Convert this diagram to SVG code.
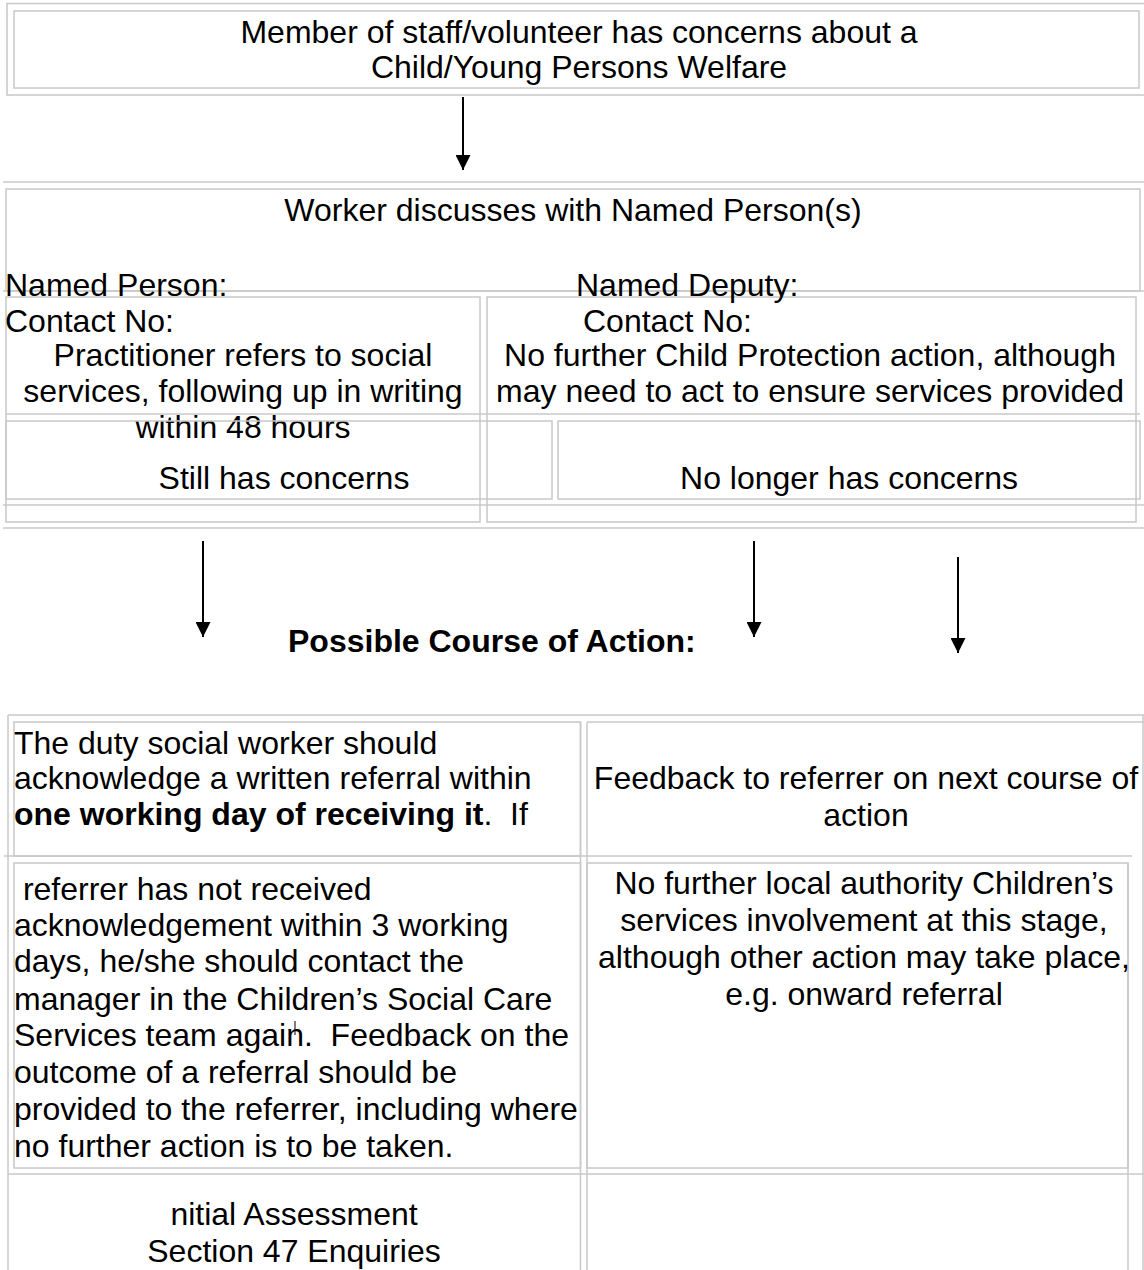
<svg xmlns="http://www.w3.org/2000/svg" width="1144" height="1270" viewBox="0 0 1144 1270">
<style>
  .g { fill: none; stroke: #c8c8c8; stroke-width: 1.5; }
  .t { font-family: "Liberation Sans", Arial, sans-serif; font-size: 32px; fill: #000; }
  .c { text-anchor: middle; }
  .b { font-weight: bold; }
  .arr { stroke: #000; stroke-width: 2; fill: none; marker-end: url(#ah); }
</style>
<defs>
  <marker id="ah" markerUnits="userSpaceOnUse" markerWidth="16" markerHeight="15" refX="15" refY="7.5" orient="auto">
    <path d="M0,0 L15,7.5 L0,15 z" fill="#000"/>
  </marker>
</defs>
<rect width="1144" height="1270" fill="#fff"/>

<g id="node-concern">
  <rect class="g" x="7" y="3.5" width="1150" height="91.5"/>
  <rect class="g" x="14" y="11" width="1125" height="77"/>
  <text class="t c" x="579" y="43">Member of staff/volunteer has concerns about a</text>
  <text class="t c" x="579" y="78">Child/Young Persons Welfare</text>
</g>

<g id="node-worker">
  <line class="g" x1="3" y1="182" x2="1144" y2="182"/>
  <rect class="g" x="6" y="189" width="1134" height="102"/>
  <line class="g" x1="3" y1="291" x2="1144" y2="291"/>
  <text class="t c" x="573" y="221">Worker discusses with Named Person(s)</text>
</g>

<g id="node-left-column">
  <rect class="g" x="6" y="297" width="474" height="225"/>
  <text class="t" x="5" y="296">Named Person:</text>
  <text class="t" x="5" y="332">Contact No:</text>
  <text class="t c" x="243" y="366">Practitioner refers to social</text>
  <text class="t c" x="243" y="402">services, following up in writing</text>
  <text class="t c" x="243" y="438">within 48 hours</text>
</g>

<g id="node-right-column">
  <rect class="g" x="487" y="297" width="649" height="225"/>
  <text class="t" x="576" y="296">Named Deputy:</text>
  <text class="t" x="583" y="332">Contact No:</text>
  <text class="t c" x="810" y="366">No further Child Protection action, although</text>
  <text class="t c" x="810" y="402">may need to act to ensure services provided</text>
</g>

<g id="node-still-concerns">
  <line class="g" x1="6" y1="414" x2="1140" y2="414"/>
  <rect class="g" x="6" y="421" width="546" height="78"/>
  <text class="t c" x="284" y="489">Still has concerns</text>
</g>

<g id="node-no-longer">
  <rect class="g" x="558" y="421" width="582" height="78"/>
  <text class="t c" x="849" y="489">No longer has concerns</text>
  <line class="g" x1="3" y1="505" x2="1144" y2="505"/>
  <line class="g" x1="3" y1="528" x2="1144" y2="528"/>
</g>

<g id="node-heading">
  <text class="t b" x="288" y="652">Possible Course of Action:</text>
</g>

<g id="node-table-frame">
  <line class="g" x1="8" y1="715" x2="1144" y2="715"/>
  <line class="g" x1="8" y1="715" x2="8" y2="1270"/>
  <line class="g" x1="1143" y1="715" x2="1143" y2="1270"/>
  <line class="g" x1="580.5" y1="722" x2="580.5" y2="1270"/>
  <line class="g" x1="587" y1="722" x2="587" y2="1270"/>
  <line class="g" x1="587" y1="722" x2="1144" y2="722"/>
  <line class="g" x1="4" y1="856" x2="1132" y2="856"/>
  <line class="g" x1="1128" y1="863" x2="1128" y2="1270"/>
  <line class="g" x1="8" y1="1174" x2="1144" y2="1174"/>
</g>

<g id="node-duty-social-worker">
  <rect class="g" x="14" y="722" width="566.5" height="134"/>
  <text class="t" x="14" y="754">The duty social worker should</text>
  <text class="t" x="14" y="789">acknowledge a written referral within</text>
  <text class="t" x="14" y="825" xml:space="preserve"><tspan class="b">one working day of receiving it</tspan>.  If</text>
</g>

<g id="node-feedback">
  <text class="t c" x="866" y="789">Feedback to referrer on next course of</text>
  <text class="t c" x="866" y="826">action</text>
</g>

<g id="node-referrer">
  <rect class="g" x="14" y="863" width="566.5" height="305"/>
  <text class="t" x="14" y="900" xml:space="preserve"> referrer has not received</text>
  <text class="t" x="14" y="936">acknowledgement within 3 working</text>
  <text class="t" x="14" y="972">days, he/she should contact the</text>
  <text class="t" x="14" y="1010">manager in the Children’s Social Care</text>
  <text class="t" x="14" y="1046" xml:space="preserve">Services team again.  Feedback on the</text>
  <text class="t" x="14" y="1083">outcome of a referral should be</text>
  <text class="t" x="14" y="1120">provided to the referrer, including where</text>
  <text class="t" x="14" y="1157">no further action is to be taken.</text>
  <line x1="295" y1="1021" x2="295" y2="1035" stroke="#000" stroke-width="1"/>
</g>

<g id="node-no-further-la">
  <rect class="g" x="587" y="863" width="541" height="305"/>
  <text class="t c" x="864" y="894">No further local authority Children’s</text>
  <text class="t c" x="864" y="931">services involvement at this stage,</text>
  <text class="t c" x="864" y="968">although other action may take place,</text>
  <text class="t c" x="864" y="1005">e.g. onward referral</text>
</g>

<g id="node-initial-assessment">
  <text class="t c" x="294" y="1225">nitial Assessment</text>
  <text class="t c" x="294" y="1262">Section 47 Enquiries</text>
</g>

<g id="connectors">
  <line class="arr" x1="463" y1="97" x2="463" y2="170"/>
  <line class="arr" x1="203" y1="541" x2="203" y2="637"/>
  <line class="arr" x1="754" y1="541" x2="754" y2="637"/>
  <line class="arr" x1="958" y1="557" x2="958" y2="653"/>
</g>
</svg>
